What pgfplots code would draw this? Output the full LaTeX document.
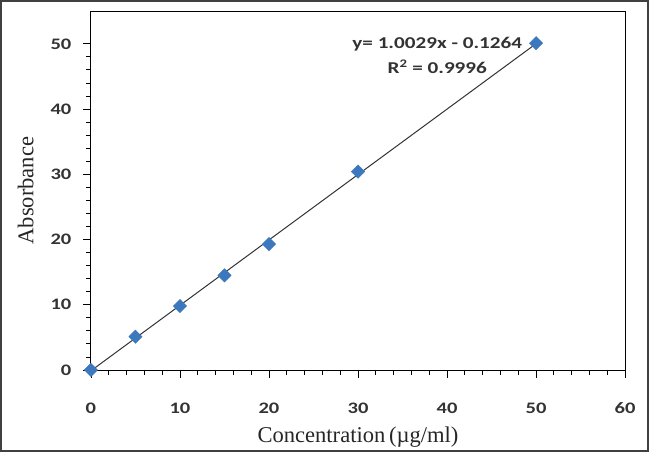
\documentclass[border=0pt]{standalone}
\usepackage{fontspec}
\setmainfont{Liberation Serif}
\newfontfamily\calib[FakeStretch=1.28]{Carlito}
\usepackage{pgfplots}
\pgfplotsset{compat=1.18}
\definecolor{mblue}{HTML}{3C78BE}
\begin{document}
\begin{tikzpicture}
\begin{axis}[
  scale only axis,
  width=533pt, height=358pt,
  xmin=0, xmax=60, ymin=0, ymax=55,
  xtick={0,10,...,60}, ytick={0,10,...,50},
  minor tick num=4,
  tick align=outside,
  tick pos=left,
  major tick length=8pt, minor tick length=5pt,
  axis line style={black, line width=0.9pt},
  tick style={black, line width=0.8pt},
  /pgf/number format/assume math mode=true,
  ticklabel style={font=\calib\bfseries\fontsize{16}{19}\selectfont, text=black!80},
  xticklabel style={yshift=-21pt},
  yticklabel style={xshift=-8pt},
  xlabel={Concentration\,(\textmu g/ml)},
  ylabel={Absorbance},
  label style={font=\fontsize{22.5}{26}\selectfont, text=black!85},
  xlabel style={yshift=-6pt},
  ylabel style={yshift=10pt},
  clip=false,
]
\addplot[black!80, line width=1pt] coordinates {(0,-0.1264) (50,50.0186)};
\addplot[only marks, mark=square*, mark size=4.7pt, mark options={rotate=45, fill=mblue, draw=mblue}]
  coordinates {(0,0) (5,5.1) (10,9.8) (15,14.5) (20,19.3) (30,30.4) (50,50.1)};
\node[font=\calib\bfseries\fontsize{16.5}{25}\selectfont, text=black!80, align=center]
  at (axis cs:38.9,48.2) {y= 1.0029x - 0.1264\\R\textsuperscript{2} = 0.9996};
\draw[black!75, line width=1.5pt] (axis cs:-10.13,-12.39) rectangle (axis cs:62.6,56.6);
\coordinate (fsw) at (axis cs:-10.13,-12.39);
\coordinate (fne) at (axis cs:62.6,56.6);
\end{axis}
\pgfresetboundingbox
\useasboundingbox ([shift={(-0.75pt,-0.75pt)}]fsw) rectangle ([shift={(0.75pt,0.75pt)}]fne);
\end{tikzpicture}
\end{document}
